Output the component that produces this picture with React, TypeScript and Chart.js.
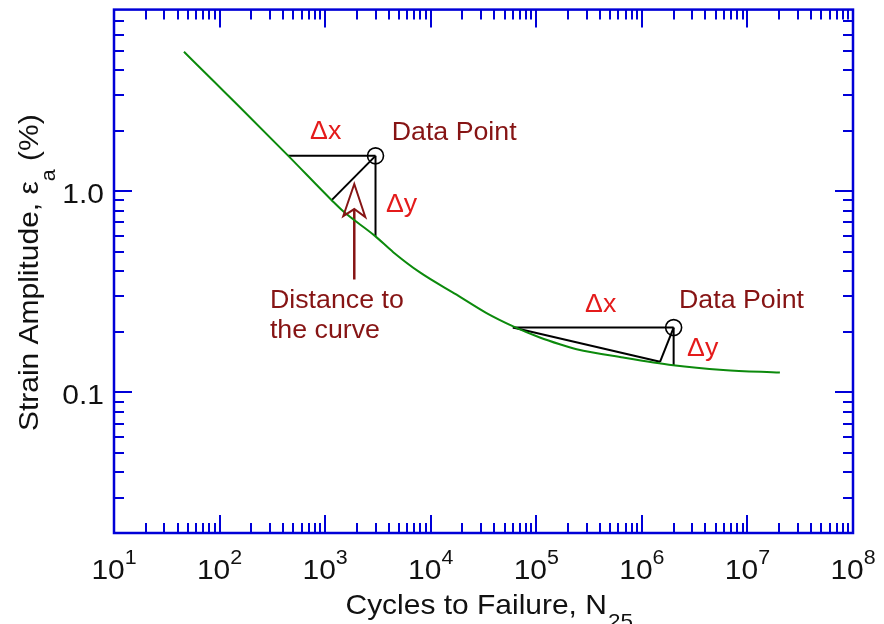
import React, { useEffect, useRef } from 'react';
import { Chart, registerables } from 'chart.js';

Chart.register(...registerables);

// ---- data ----
const xMin = 10;
const xMax = 1e8;
const yMin = 0.02;
const yMax = 8;

const xTickExponents = [1, 2, 3, 4, 5, 6, 7, 8];
const yTickValues = [0.1, 1];
const yTickLabels = ['0.1', '1.0'];

const curveCycles = [46, 90, 150, 448, 1153, 1483, 2962, 4416, 7907, 17580, 33800, 60400, 108000, 167000, 241000, 665000, 1980000, 5890000, 20300000];
const curveStrain = [4.94, 3.48, 2.67, 1.5, 0.903, 0.795, 0.6, 0.498, 0.395, 0.306, 0.248, 0.213, 0.1875, 0.1735, 0.164, 0.149, 0.1365, 0.1294, 0.1255];

const dataPointCycles = [3000, 2000000];
const dataPointStrain = [1.5, 0.21];

// guide segments (from a data point to the curve)
const seg1DxCycles = [445, 3000];
const seg1DxStrain = [1.5, 1.5];
const seg1DyCycles = [3000, 3000];
const seg1DyStrain = [1.5, 0.6];
const seg1DistCycles = [3000, 1153];
const seg1DistStrain = [1.5, 0.903];
const seg2DxCycles = [60000, 2000000];
const seg2DxStrain = [0.21, 0.21];
const seg2ChordCycles = [60000, 1486000];
const seg2ChordStrain = [0.21, 0.142];
const seg2DistCycles = [2000000, 1486000];
const seg2DistStrain = [0.21, 0.142];
const seg2DyCycles = [2000000, 2000000];
const seg2DyStrain = [0.21, 0.1365];

// arrow "distance to the curve"
const arrowStemCycles = [1888, 1888];
const arrowStemStrain = [0.364, 0.815];
const arrowTipCycles = 1888;
const arrowTipStrain = 1.086;

// annotation texts, anchored in data coordinates (left / baseline)
const annotationTexts = ['\u0394x', 'Data Point', '\u0394y', 'Distance to', 'the curve', '\u0394x', 'Data Point', '\u0394y'];
const annotationCycles = [719, 4271, 3771, 300, 300, 289500, 2250000, 2680000];
const annotationStrain = [1.826, 1.805, 0.788, 0.2626, 0.1868, 0.25, 0.2617, 0.1518];
const annotationIsDelta = [true, false, true, false, false, true, false, true];

// ---- styles ----
const BLUE = '#0000d8';
const GREEN = '#0c8a0c';
const RED = '#e41b1b';
const DARKRED = '#861414';
const FONT = '"Liberation Sans", Arial, Helvetica, sans-serif';
const SX = 1.07;

const toXY = (xs: number[], ys: number[]) => xs.map((x, i) => ({ x, y: ys[i] }));

function drawText(ctx: CanvasRenderingContext2D, text: string, x: number, y: number, size: number, color: string, align: 'left' | 'center' | 'right' = 'left') {
  ctx.save();
  ctx.font = `${size}px ${FONT}`;
  ctx.fillStyle = color;
  ctx.textBaseline = 'alphabetic';
  ctx.textAlign = 'left';
  const w = ctx.measureText(text).width * SX;
  const x0 = align === 'center' ? x - w / 2 : align === 'right' ? x - w : x;
  ctx.translate(x0, y);
  ctx.scale(SX, 1);
  ctx.fillText(text, 0, 0);
  ctx.restore();
  return w;
}

function textWidth(ctx: CanvasRenderingContext2D, text: string, size: number) {
  ctx.save();
  ctx.font = `${size}px ${FONT}`;
  const w = ctx.measureText(text).width * SX;
  ctx.restore();
  return w;
}

const framePlugin = {
  id: 'frameTicks',
  afterDraw(chart: any) {
    const ctx: CanvasRenderingContext2D = chart.ctx;
    const { left, right, top, bottom } = chart.chartArea;
    const xs = chart.scales.x;
    const ys = chart.scales.y;

    ctx.save();
    ctx.strokeStyle = BLUE;
    ctx.lineWidth = 2;
    ctx.beginPath();
    for (let d = 1; d < 8; d++) {
      for (let m = 1; m <= 9; m++) {
        const v = m * Math.pow(10, d);
        if (v <= xMin * 1.0001 || v >= xMax * 0.9999) continue;
        const px = Math.round(xs.getPixelForValue(v));
        const len = m === 1 ? 18 : 10;
        ctx.moveTo(px, bottom);
        ctx.lineTo(px, bottom - len);
        ctx.moveTo(px, top);
        ctx.lineTo(px, top + len);
      }
    }
    for (let d = -2; d <= 0; d++) {
      for (let m = 1; m <= 9; m++) {
        const v = m * Math.pow(10, d);
        if (v <= yMin * 1.0001 || v >= yMax * 0.9999) continue;
        const py = Math.round(ys.getPixelForValue(v));
        const len = m === 1 ? 18 : 10;
        ctx.moveTo(left, py);
        ctx.lineTo(left + len, py);
        ctx.moveTo(right, py);
        ctx.lineTo(right - len, py);
      }
    }
    ctx.stroke();
    ctx.lineWidth = 2.5;
    ctx.strokeRect(left, top, right - left, bottom - top);
    ctx.restore();

    // x tick labels 10^n
    xTickExponents.forEach((n) => {
      const px = xs.getPixelForValue(Math.pow(10, n));
      const w10 = textWidth(ctx, '10', 28);
      const wExp = textWidth(ctx, String(n), 20);
      const start = px - (w10 + wExp) / 2;
      drawText(ctx, '10', start, bottom + 46, 28, '#111');
      drawText(ctx, String(n), start + w10, bottom + 31, 20, '#111');
    });

    // y tick labels
    yTickValues.forEach((v, i) => {
      const py = ys.getPixelForValue(v);
      drawText(ctx, yTickLabels[i], left - 10, py + 12, 28, '#111', 'right');
    });

    // x axis title
    {
      const x0 = 345.5;
      const base = bottom + 81;
      const w = drawText(ctx, 'Cycles to Failure, N', x0, base, 28, '#111');
      drawText(ctx, '25', x0 + w + 1, base + 14, 21, '#111');
    }

    // y axis title (rotated)
    ctx.save();
    ctx.translate(38, 431);
    ctx.rotate(-Math.PI / 2);
    {
      let p = 0;
      p += drawText(ctx, 'Strain Amplitude, \u03b5', p, 0, 28, '#111');
      p += drawText(ctx, 'a', p, 17, 20, '#111');
      drawText(ctx, ' (%)', p, 0, 28, '#111');
    }
    ctx.restore();

    // annotations
    annotationTexts.forEach((t, i) => {
      const px = xs.getPixelForValue(annotationCycles[i]);
      const py = ys.getPixelForValue(annotationStrain[i]);
      drawText(ctx, t, px, py, 25, annotationIsDelta[i] ? RED : DARKRED);
    });

    // arrow head
    const tx = xs.getPixelForValue(arrowTipCycles);
    const ty = ys.getPixelForValue(arrowTipStrain);
    ctx.save();
    ctx.strokeStyle = DARKRED;
    ctx.lineWidth = 2;
    ctx.lineJoin = 'miter';
    ctx.beginPath();
    ctx.moveTo(tx, ty);
    ctx.lineTo(tx + 11, ty + 33);
    ctx.lineTo(tx, ty + 25);
    ctx.lineTo(tx - 11, ty + 32);
    ctx.closePath();
    ctx.stroke();
    ctx.restore();
  },
};

export default function App() {
  const ref = useRef<HTMLCanvasElement | null>(null);

  useEffect(() => {
    document.body.style.margin = '0';
    const canvas = ref.current;
    if (!canvas) return;
    const seg = (xs: number[], ys: number[], color: string, width: number) => ({
      data: toXY(xs, ys),
      showLine: true,
      borderColor: color,
      borderWidth: width,
      pointRadius: 0,
      tension: 0,
    });
    const chart = new Chart(canvas, {
      type: 'scatter',
      data: {
        datasets: [
          {
            data: toXY(curveCycles, curveStrain),
            showLine: true,
            borderColor: GREEN,
            borderWidth: 2,
            pointRadius: 0,
            cubicInterpolationMode: 'monotone',
          },
          seg(seg1DxCycles, seg1DxStrain, '#000', 2),
          seg(seg1DyCycles, seg1DyStrain, '#000', 2),
          seg(seg1DistCycles, seg1DistStrain, '#000', 2),
          seg(seg2DxCycles, seg2DxStrain, '#000', 2),
          seg(seg2ChordCycles, seg2ChordStrain, '#000', 2),
          seg(seg2DistCycles, seg2DistStrain, '#000', 2),
          seg(seg2DyCycles, seg2DyStrain, '#000', 2),
          seg(arrowStemCycles, arrowStemStrain, DARKRED, 2.5),
          {
            data: toXY(dataPointCycles, dataPointStrain),
            showLine: false,
            pointRadius: 8,
            pointBorderWidth: 1.6,
            borderColor: '#000',
            backgroundColor: 'rgba(0,0,0,0)',
            pointBackgroundColor: 'rgba(0,0,0,0)',
            pointBorderColor: '#000',
          },
        ] as any,
      },
      options: {
        responsive: false,
        animation: false,
        devicePixelRatio: 1,
        layout: { padding: { left: 114, right: 31, top: 6, bottom: 91 } },
        plugins: {
          legend: { display: false },
          tooltip: { enabled: false },
        },
        scales: {
          x: { type: 'logarithmic', min: xMin, max: xMax, display: false },
          y: { type: 'logarithmic', min: yMin, max: yMax, display: false },
        },
      } as any,
      plugins: [framePlugin],
    });
    return () => chart.destroy();
  }, []);

  return (
    <div style={{ width: 884, height: 624, background: '#fff' }}>
      <canvas ref={ref} width={884} height={624} style={{ display: 'block' }} />
    </div>
  );
}
